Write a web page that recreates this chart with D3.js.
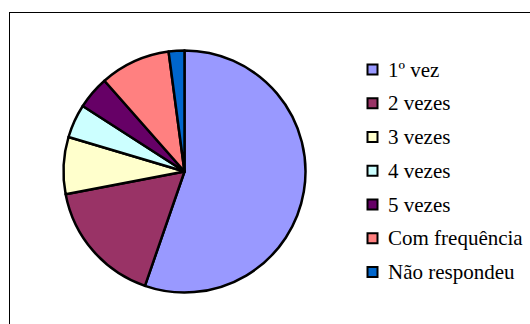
<!DOCTYPE html>
<html>
<head>
<meta charset="utf-8">
<script src="https://cdn.jsdelivr.net/npm/d3@7"></script>
<style>
  html, body { margin: 0; padding: 0; background: #fff; }
  svg { display: block; }
</style>
</head>
<body>
<svg id="chart" width="530" height="324"></svg>
<script>
const categories = ["1º vez", "2 vezes", "3 vezes", "4 vezes", "5 vezes", "Com frequência", "Não respondeu"];
const values = [55.3, 16.7, 7.6, 4.5, 4.4, 9.4, 2.1];
const colors = ["#9999FF", "#993366", "#FFFFCC", "#CCFFFF", "#660066", "#FF8080", "#0066CC"];

const data = categories.map((c, i) => ({ name: c, value: values[i], color: colors[i] }));

const svg = d3.select("#chart");

// outer frame
svg.append("rect")
  .attr("x", 9.5).attr("y", 12.5)
  .attr("width", 600).attr("height", 400)
  .attr("fill", "#fff")
  .attr("stroke", "#000").attr("stroke-width", 1);

const cx = 184.5, cy = 171.5, r = 121;

const pie = d3.pie().value(d => d.value).sort(null);
const arc = d3.arc().innerRadius(0).outerRadius(r);

const g = svg.append("g").attr("transform", `translate(${cx},${cy})`);
g.selectAll("path")
  .data(pie(data))
  .join("path")
  .attr("d", arc)
  .attr("fill", d => d.data.color)
  .attr("stroke", "#000")
  .attr("stroke-width", 2.5)
  .attr("stroke-linejoin", "round");

// legend
const legendY = d3.scalePoint().domain(categories).range([69.5, 272]);
const lg = svg.append("g");
const items = lg.selectAll("g")
  .data(data)
  .join("g")
  .attr("transform", d => `translate(367, ${legendY(d.name)})`);

items.append("rect")
  .attr("x", 0.5).attr("y", -5)
  .attr("width", 10).attr("height", 10)
  .attr("fill", d => d.color)
  .attr("stroke", "#000")
  .attr("stroke-width", 2);

items.append("text")
  .attr("x", 21)
  .attr("y", 7)
  .style("font-family", '"Liberation Serif"')
  .style("font-size", "21px")
  .attr("fill", "#000")
  .text(d => d.name);
</script>
</body>
</html>
